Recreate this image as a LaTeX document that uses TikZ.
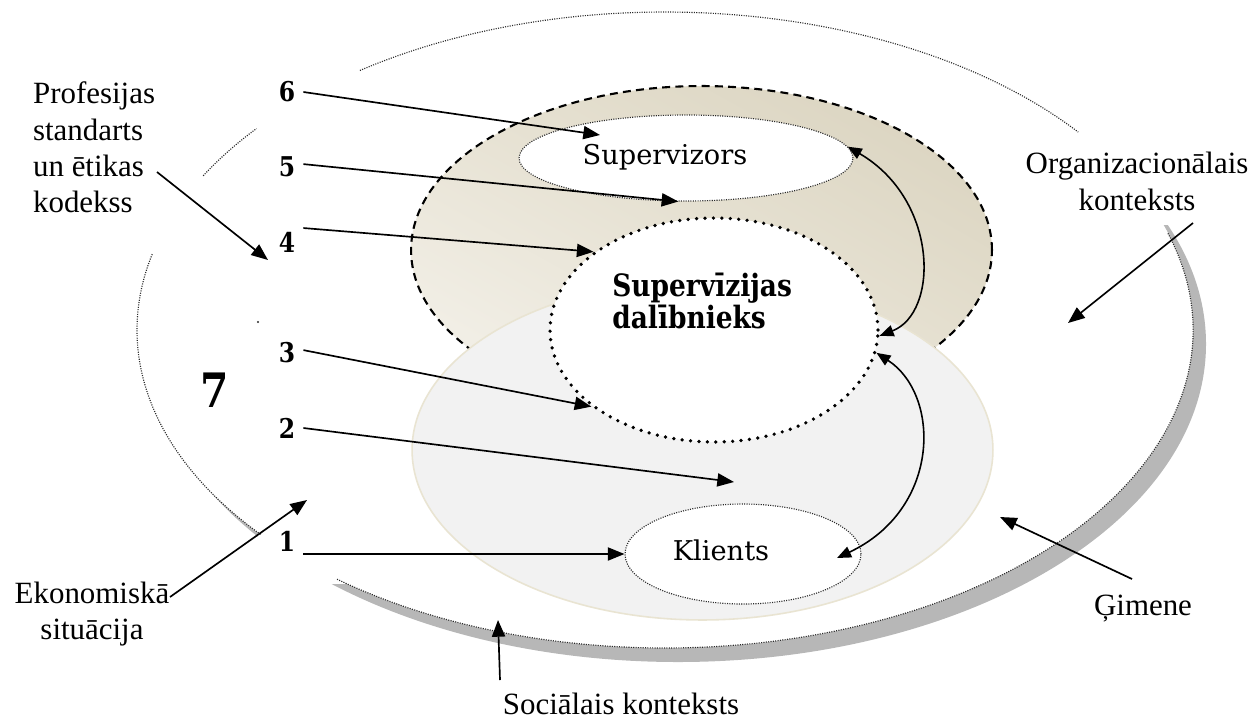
\documentclass[tikz,border=0pt]{standalone}
\usepackage{fontspec}
\setmainfont{Liberation Serif}
\newfontfamily\cambr{DejaVu Serif}
\newfontfamily\cambrb[FakeStretch=0.86]{DejaVu Serif Bold}
\usetikzlibrary{arrows.meta,shapes.geometric,shadings}

\definecolor{tanDark}{HTML}{D8D1BC}
\definecolor{tanMid}{HTML}{E7E2D3}
\definecolor{tanLight}{HTML}{F6F4EE}
\definecolor{famFill}{HTML}{F2F2F2}
\definecolor{famLine}{HTML}{E9E4D2}
\definecolor{shadowGray}{HTML}{B7B7B7}
\definecolor{ringLine}{HTML}{2A2A2A}

\tikzset{
  arr/.style={-{Triangle[length=9.5pt,width=7.5pt]}, line width=0.95pt},
  darr/.style={{Triangle[length=8pt,width=6.5pt]}-{Triangle[length=8pt,width=6.5pt]}, line width=0.9pt},
  fineDots/.style={draw=ringLine, line width=0.65pt, dash pattern=on 0.6pt off 0.75pt},
  inner/.style={ellipse, inner sep=0pt, fill=white, fineDots},
  lbl/.style={font=\fontsize{17.6}{20.7}\selectfont, inner sep=1pt},
  num/.style={font=\cambrb\fontsize{15.5}{16}\selectfont, inner xsep=4.5pt, inner ysep=2pt},
  ctxarc/.style={fineDots, x radius=528, y radius=318},
}

\begin{document}
\begin{tikzpicture}[x={(0.02cm,0)}, y={(0,-0.02cm)}]
\useasboundingbox (0,0) rectangle (1256,727);

% outer context ring with its drop shadow
\coordinate (ctx) at (665,330);
\fill[shadowGray] (678,344) ellipse [x radius=528, y radius=318];
\fill[white] (ctx) ellipse [x radius=528, y radius=318];
\fill[white] (258,470) rectangle (345,584);
\fill[white] (1040,140) rectangle (1256,225);
\draw[ctxarc] (ctx) ++(-125.3:528 and 318) arc[start angle=-125.3, end angle=-38.5];
\draw[ctxarc] (ctx) ++(-151:528 and 318) arc[start angle=-151, end angle=-140.7];
\draw[ctxarc] (ctx) ++(140:528 and 318) arc[start angle=140, end angle=194];
\draw[ctxarc] (ctx) ++(-17.7:528 and 318) arc[start angle=-17.7, end angle=128.4];
\fill[ringLine] (258,322) circle [radius=1.2];

% supervision level (dashed) and family level (grey)
\node (supctx) [ellipse, inner sep=0pt, minimum width=11.62cm, minimum height=6.56cm,
  draw=black, line width=1.2pt, dash pattern=on 4.5pt off 3pt,
  upper right=tanDark, upper left=tanMid, lower left=tanLight, lower right=tanMid] at (701.5,250) {};
\node (fam) [ellipse, inner sep=0pt, minimum width=11.62cm, minimum height=6.8cm,
  fill=famFill, draw=famLine, line width=0.9pt] at (702.5,450) {};

% the three participants
\node (sup) [inner, minimum width=6.68cm, minimum height=1.72cm] at (686,158) {};
\node (supt) [font=\cambr\fontsize{15.5}{17}\selectfont] at (665,157) {Supervizors};
\node (dal) [ellipse, inner sep=0pt, minimum width=6.56cm, minimum height=4.48cm, fill=white,
  draw=black, line width=2.1pt, line cap=round, dash pattern=on 0pt off 4.8pt] at (714,330) {};
\node (dalt) [font=\cambrb\fontsize{17.5}{18.2}\selectfont, align=left, anchor=west, inner sep=0pt] at (612,301) {Supervīzijas\\dalībnieks};
\node (kl) [inner, minimum width=4.72cm, minimum height=2.0cm] at (743,554) {};
\node (klt) [font=\cambr\fontsize{15.5}{17}\selectfont] at (721,550) {Klients};

% numbered levels
\node (n6) [num] at (287,92) {6};
\node (n5) [num] at (287,167) {5};
\node (n4) [num] at (287,242) {4};
\node (n3) [num] at (287,353) {3};
\node (n2) [num] at (287,428) {2};
\node (n1) [num] at (287,541) {1};
\node (n7) [font=\cambrb\fontsize{27}{28}\selectfont] at (215,390) {7};

% outer labels
\node (prof) [lbl, align=left, anchor=west] at (31,147.5) {Profesijas\\standarts\\un ētikas\\kodekss};
\node (org) [lbl, align=center] at (1137,181.5) {Organizacionālais\\konteksts};
\node (gim) [lbl] at (1143,609) {Ģimene};
\node (eko) [lbl, align=center] at (92,614) {Ekonomiskā\\situācija};
\node (soc) [lbl] at (621,704) {Sociālais konteksts};

% arrow ends
\coordinate (t6) at (600,135);
\coordinate (t2) at (734,482);
\coordinate (kin) at (837,558);
\coordinate (profout) at (157,172);
\coordinate (tprof) at (268,260);
\coordinate (ekoout) at (170,597);
\coordinate (teko) at (307,500);
\coordinate (socout) at (500,680);
\coordinate (tsoc) at (498,620);
\coordinate (gimout) at (1132,579);
\coordinate (tgim) at (1000,517);
\coordinate (orgout) at (1193,223);
\coordinate (torg) at (1068,323);

\draw[arr] (n6.east) -- (t6);
\draw[arr] (n5.10) -- (sup.260);
\draw[arr] (n4.north east) -- (dal.147);
\draw[arr] (n3.10) -- (dal.212.5);
\draw[arr] (n2.east) -- (t2);
\draw[arr] (n1.east |- kl.west) -- (kl.west);

\draw[arr] (profout) -- (tprof);
\draw[arr] (ekoout) -- (teko);
\draw[arr] (socout) -- (tsoc);
\draw[arr] (gimout) -- (tgim);
\draw[arr] (orgout) -- (torg);

% two-way links between the participants
\draw[darr] (sup.4) .. controls (939,200) and (939,313) .. (dal.-2);
\draw[darr] (dal.-8) .. controls (941,395) and (941,509) .. (kin);
\end{tikzpicture}
\end{document}
